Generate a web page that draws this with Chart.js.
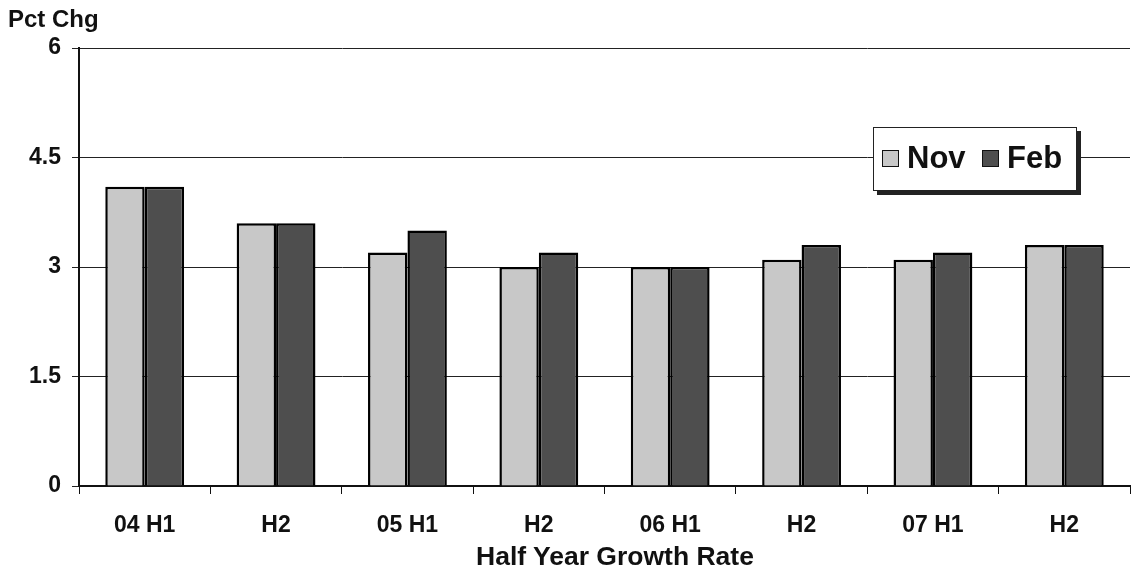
<!DOCTYPE html>
<html>
<head>
<meta charset="utf-8">
<script src="https://cdn.jsdelivr.net/npm/chart.js@4/dist/chart.umd.min.js"></script>
<style>
  html, body { margin: 0; padding: 0; background: #fff; }
  #wrap { position: relative; width: 1134px; height: 579px; font-family: "Liberation Sans", Arial, sans-serif; }
  canvas { position: absolute; left: 0; top: 0; }
  .lbl { position: absolute; font-weight: bold; color: #111; white-space: nowrap; }
  #ytitle { left: 8px; top: 5px; font-size: 24px; }
  #xtitle { left: 0; width: 1230px; text-align: center; top: 541px; font-size: 26.5px; }
  #legend { position: absolute; left: 873px; top: 127px; width: 204px; height: 64px; border: 1.5px solid #222;
            box-shadow: 4px 4px 0 #222; background: #fff; box-sizing: border-box; }
  #legend .item { position: absolute; top: 12px; display: flex; align-items: center; font-weight: bold; font-size: 31px; color: #111; }
  #legend .sw { width: 15px; height: 15px; border: 1.5px solid #111; margin-right: 8px; }
</style>
</head>
<body>
<div id="wrap">
  <canvas id="c" width="1134" height="579"></canvas>
  <div class="lbl" id="ytitle">Pct Chg</div>
  <div class="lbl" id="xtitle">Half Year Growth Rate</div>
  <div id="legend"></div>
</div>
<script>
const categories = ["04 H1", "H2", "05 H1", "H2", "06 H1", "H2", "07 H1", "H2"];
const novValues = [4.1, 3.6, 3.2, 3.0, 3.0, 3.1, 3.1, 3.3];
const febValues = [4.1, 3.6, 3.5, 3.2, 3.0, 3.3, 3.2, 3.3];
const seriesNames = ["Nov", "Feb"];
const seriesColors = ["#c8c8c8", "#4e4e4e"];
const yTickValues = [0, 1.5, 3, 4.5, 6];

const FONT = "'Liberation Sans', Arial, sans-serif";

const chart = new Chart(document.getElementById('c'), {
  type: 'bar',
  data: {
    labels: categories,
    datasets: [
      { label: seriesNames[0], data: novValues, backgroundColor: seriesColors[0], borderColor: '#000', borderWidth: 2.5,
        categoryPercentage: 0.6, barPercentage: 1.0 },
      { label: seriesNames[1], data: febValues, backgroundColor: seriesColors[1], borderColor: '#000', borderWidth: 2.5,
        categoryPercentage: 0.6, barPercentage: 1.0 }
    ]
  },
  options: {
    responsive: false,
    animation: false,
    layout: { padding: { top: 48, right: 4, left: 0, bottom: 0 } },
    plugins: { legend: { display: false }, tooltip: { enabled: false } },
    scales: {
      x: {
        grid: { display: true, drawOnChartArea: false, drawTicks: true, tickLength: 8, offset: true, color: '#111', lineWidth: 1 },
        border: { display: true, color: '#111', width: 2 },
        ticks: { color: '#111', font: { family: FONT, size: 23, weight: 'bold' }, padding: 18, maxRotation: 0 },
        afterFit: s => { s.height = 93; }
      },
      y: {
        min: 0, max: 6,
        afterBuildTicks: s => { s.ticks = yTickValues.map(v => ({ value: v })); },
        grid: { display: true, drawTicks: true, tickLength: 7, color: '#222', lineWidth: 1 },
        border: { display: true, color: '#111', width: 2 },
        ticks: { color: '#111', font: { family: FONT, size: 23, weight: 'bold' }, padding: 11,
                 callback: v => String(v) },
        afterFit: s => { s.width = 79; }
      }
    }
  }
});

const legend = document.getElementById('legend');
const lefts = [8, 108];
seriesNames.forEach((n, i) => {
  const it = document.createElement('div');
  it.className = 'item';
  it.style.left = lefts[i] + 'px';
  const sw = document.createElement('div');
  sw.className = 'sw';
  sw.style.background = seriesColors[i];
  it.appendChild(sw);
  it.appendChild(document.createTextNode(n));
  legend.appendChild(it);
});
</script>
</body>
</html>
